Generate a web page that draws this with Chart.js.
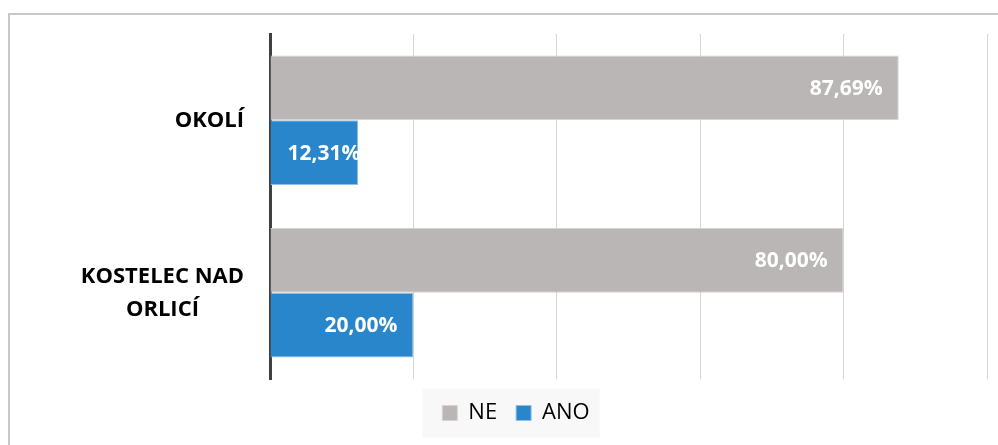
<!DOCTYPE html>
<html>
<head>
<meta charset="utf-8">
<script src="https://cdn.jsdelivr.net/npm/chart.js@4.4.1/dist/chart.umd.min.js"></script>
<style>
    html, body { margin: 0; padding: 0; background: #fff; overflow: hidden; }
    #wrap { position: relative; width: 998px; height: 445px; }
    #frame { position: absolute; left: 8px; top: 13px; width: 1100px; height: 500px; border: 2px solid #c8c8c8; }
    #chart { position: absolute; left: 0; top: 0; }
</style>
</head>
<body>
<div id="wrap">
    <div id="frame"></div>
    <canvas id="chart" width="998" height="445"></canvas>
</div>
<script>
// data
const categories = ['OKOLÍ', ['KOSTELEC NAD', 'ORLICÍ']];
const seriesNames = ['NE', 'ANO'];
const neValues = [87.69, 80.00];
const anoValues = [12.31, 20.00];
const xTicks = [0, 20, 40, 60, 80, 100];

const fontFamily = "'Open Sans', sans-serif";

function formatPct(v) {
    return v.toFixed(2).replace('.', ',') + '%';
}

// light box behind the legend
const legendBackground = {
    id: 'legendBackground',
    beforeDraw(chart) {
        const boxes = chart.legend.legendHitBoxes;
        if (!boxes || !boxes.length) return;
        const first = boxes[0];
        const last = boxes[boxes.length - 1];
        const left = first.left - 20;
        const right = last.left + last.width + 10;
        const cy = first.top + first.height / 2;
        const ctx = chart.ctx;
        ctx.save();
        ctx.fillStyle = '#f8f8f8';
        ctx.fillRect(left, cy - 24.5, right - left, 49);
        ctx.restore();
    }
};

// white percentage labels inside the bars
const barLabels = {
    id: 'barLabels',
    afterDatasetsDraw(chart) {
        const ctx = chart.ctx;
        ctx.save();
        ctx.font = 'bold 21px ' + fontFamily;
        ctx.fillStyle = '#ffffff';
        ctx.textBaseline = 'middle';
        ctx.textAlign = 'left';
        chart.data.datasets.forEach((ds, di) => {
            const meta = chart.getDatasetMeta(di);
            meta.data.forEach((bar, i) => {
                const text = formatPct(ds.data[i]);
                const w = ctx.measureText(text).width;
                let x = bar.x - 16 - w;
                if (x < bar.base + 17) x = bar.base + 17;
                ctx.fillText(text, x, bar.y + 1);
            });
        });
        ctx.restore();
    }
};

// category labels, block right aligned, lines centred in the block
const categoryLabels = {
    id: 'categoryLabels',
    afterDraw(chart) {
        const ctx = chart.ctx;
        const yScale = chart.scales.y;
        const right = 244;
        const lineH = 33;
        ctx.save();
        ctx.font = 'bold 22px ' + fontFamily;
        ctx.fillStyle = '#000000';
        ctx.textBaseline = 'middle';
        ctx.textAlign = 'center';
        categories.forEach((label, i) => {
            const lines = Array.isArray(label) ? label : [label];
            const blockW = Math.max(...lines.map(l => ctx.measureText(l).width));
            const cx = right - blockW / 2;
            const cy = yScale.getPixelForValue(i);
            lines.forEach((line, j) => {
                const y = cy + (j - (lines.length - 1) / 2) * lineH;
                ctx.fillText(line, cx, y);
            });
        });
        ctx.restore();
    }
};

const info = {
    labels: categories,
    datasets: [{
        label: seriesNames[0],
        data: neValues,
        backgroundColor: '#bab6b5',
        borderColor: '#d6d3d2',
        borderWidth: 1,
        categoryPercentage: 0.75,
        barPercentage: 1.0
    }, {
        label: seriesNames[1],
        data: anoValues,
        backgroundColor: '#2986cb',
        borderColor: '#8fc0e6',
        borderWidth: 1,
        categoryPercentage: 0.75,
        barPercentage: 1.0
    }]
};

const config = {
    type: 'bar',
    data: info,
    options: {
        indexAxis: 'y',
        responsive: false,
        animation: false,
        layout: {
            padding: { left: 45, right: 11, top: 34, bottom: 11 }
        },
        scales: {
            x: {
                min: xTicks[0],
                max: xTicks[xTicks.length - 1],
                afterBuildTicks: (scale) => {
                    scale.ticks = xTicks.map(v => ({ value: v }));
                },
                afterFit: (scale) => { scale.height = 4; },
                ticks: { display: false },
                grid: { color: '#d6d6d6', lineWidth: 1, drawTicks: false },
                border: { display: false }
            },
            y: {
                afterFit: (scale) => { scale.width = 225; },
                ticks: { display: false },
                grid: { display: false, drawTicks: false },
                border: { display: true, color: '#404040', width: 3 }
            }
        },
        plugins: {
            legend: {
                position: 'bottom',
                labels: {
                    boxWidth: 15,
                    boxHeight: 15,
                    padding: 19,
                    color: '#000000',
                    font: { family: fontFamily, size: 22 }
                }
            },
            tooltip: { enabled: false }
        }
    },
    plugins: [legendBackground, barLabels, categoryLabels]
};

const myChart = new Chart(document.getElementById('chart'), config);
</script>
</body>
</html>
